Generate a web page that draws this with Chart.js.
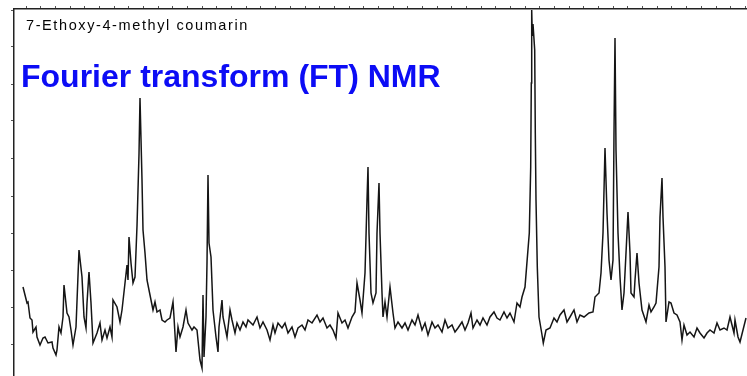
<!DOCTYPE html>
<html>
<head>
<meta charset="utf-8">
<title>7-Ethoxy-4-methyl coumarin</title>
<script src="https://cdn.jsdelivr.net/npm/chart.js@4.4.1/dist/chart.umd.min.js"></script>
<style>
  html, body { margin: 0; padding: 0; background: #fff; }
  #wrap { position: relative; width: 747px; height: 376px; }
</style>
</head>
<body>
<div id="wrap"><canvas id="nmrChart"></canvas></div>
<script>
const compoundName = '7-Ethoxy-4-methyl coumarin';
const headline = 'Fourier transform (FT) NMR';

// trace: position along the sweep, and signal height
const shift = [
    9, 13, 14, 16, 18, 19, 22, 23, 26, 29, 31, 34, 38, 39, 42, 43, 45, 47, 49, 50,
    53, 55, 57, 59, 62, 65, 68, 70, 72, 73, 75, 77, 79, 83, 86, 88, 91, 93, 96, 98,
    99, 103, 106, 108, 111, 113, 114, 115, 117, 119, 121, 123, 125, 126, 128, 129, 131, 133, 135, 137,
    139, 141, 143, 146, 148, 151, 153, 156, 159, 160, 162, 164, 166, 169, 172, 174, 178, 180, 183, 186,
    188, 189, 190, 192, 193, 194, 195, 197, 199, 202, 204, 205, 208, 209, 213, 216, 218, 221, 223, 226,
    229, 232, 234, 239, 243, 246, 249, 253, 256, 259, 261, 264, 268, 271, 274, 278, 281, 284, 288, 291,
    294, 298, 303, 306, 309, 313, 316, 319, 322, 324, 328, 331, 334, 338, 341, 343, 346, 348, 351, 353,
    354, 355, 357, 359, 362, 363, 365, 366, 368, 369, 371, 373, 376, 379, 381, 384, 388, 391, 394, 398,
    401, 404, 408, 411, 414, 418, 421, 424, 428, 431, 434, 438, 441, 444, 448, 451, 454, 457, 459, 463,
    466, 469, 473, 476, 480, 483, 486, 490, 493, 496, 500, 503, 506, 508, 511, 515.3, 516.7, 517.3, 517.7, 518.3,
    519, 520.7, 521.3, 522, 523.3, 525, 527.7, 529.3, 532, 536, 540, 543, 546, 550, 553, 556, 560, 563, 566, 570, 575, 579,
    581, 585, 587, 589, 591, 593, 595, 597, 599, 600, 601, 602, 604, 606, 608, 610, 612, 614, 616, 617,
    620, 621, 623, 625, 628, 632, 635, 637, 640, 642, 645, 646, 648, 649, 651, 652, 655, 657, 660, 663,
    666, 668, 670, 673, 676, 680, 683, 686, 690, 693, 696, 700, 703, 706, 710, 713, 716, 720, 721, 724,
    726, 729, 732
];
const signal = [
    89, 73, 74, 58, 56, 44, 49, 39, 31, 38, 39, 33, 34, 28, 21, 26, 49, 43, 59, 91,
    63, 59, 46, 31, 49, 126, 99, 59, 48, 73, 104, 73, 33, 43, 53, 36, 46, 38, 49, 39,
    76, 69, 54, 66, 93, 111, 96, 139, 113, 93, 99, 150, 222, 278, 196, 146, 123, 96, 86, 76,
    66, 74, 64, 66, 56, 54, 56, 58, 74, 59, 24, 49, 39, 49, 66, 53, 46, 49, 46, 16,
    8, 81, 19, 59, 113, 201, 133, 119, 66, 39, 24, 49, 76, 59, 39, 66, 56, 43, 53, 46,
    54, 49, 56, 51, 59, 48, 54, 46, 36, 51, 43, 53, 48, 53, 43, 49, 39, 48, 51, 46,
    56, 53, 61, 54, 58, 48, 51, 46, 38, 63, 53, 56, 48, 59, 64, 93, 76, 63, 103, 176,
    209, 143, 83, 73, 83, 143, 193, 143, 83, 59, 74, 59, 89, 63, 48, 54, 48, 53, 46, 56,
    51, 61, 46, 53, 41, 54, 48, 51, 44, 56, 48, 51, 44, 48, 54, 46, 53, 63, 48, 56,
    51, 58, 51, 59, 64, 58, 56, 64, 58, 63, 54, 73, 69, 79, 89, 143, 209, 293, 366, 340,
    352, 326, 243, 176, 109, 59, 43, 33, 46, 48, 58, 54, 61, 66, 54, 59, 66, 54, 61, 59, 63, 64,
    79, 83, 103, 143, 228, 163, 116, 96, 116, 243, 338, 226, 143, 99, 66, 83, 123, 164, 123, 83,
    79, 96, 123, 93, 66, 54, 71, 64, 69, 73, 109, 159, 198, 159, 109, 54, 74, 73, 63, 61,
    54, 36, 51, 41, 44, 39, 48, 43, 38, 43, 46, 43, 53, 46, 48, 46, 59, 43, 56, 39,
    34, 46, 58
];

// frame division marks (no labels on the scan)
const yTicks = [32, 69, 106, 143, 180, 218, 255, 292, 329, 366];
const xTickStart = -2.6;
const xTickStep = 14.68;

const labelPlugin = {
    id: 'scanLabels',
    afterDraw(chart) {
        const ctx = chart.ctx;
        const area = chart.chartArea;
        ctx.save();
        ctx.textBaseline = 'alphabetic';
        ctx.fillStyle = '#050505';
        ctx.font = '14.5px "Liberation Sans"';
        ctx.letterSpacing = '1.6px';
        ctx.fillText(compoundName, area.left + 12, area.top + 21);
        ctx.letterSpacing = '0px';
        ctx.fillStyle = '#0c0cf5';
        ctx.font = 'bold 32px "Liberation Sans"';
        ctx.fillText(headline, area.left + 7, area.top + 78);
        ctx.restore();
    }
};

const ctx = document.getElementById('nmrChart').getContext('2d');
new Chart(ctx, {
    type: 'line',
    data: {
        datasets: [{
            data: shift.map((x, i) => ({ x: x, y: signal[i] })),
            borderColor: '#151515',
            borderWidth: 1.5,
            pointRadius: 0,
            tension: 0,
            fill: false
        }]
    },
    options: {
        responsive: true,
        maintainAspectRatio: false,
        animation: false,
        layout: { padding: { left: 11, top: 6, right: 0, bottom: 0 } },
        plugins: {
            legend: { display: false },
            tooltip: { enabled: false }
        },
        scales: {
            x: {
                type: 'linear',
                position: 'top',
                min: 0,
                max: 733,
                afterBuildTicks: function (axis) {
                    const ticks = [];
                    for (let v = xTickStart + xTickStep; v < 733; v += xTickStep) {
                        ticks.push({ value: v });
                    }
                    axis.ticks = ticks;
                },
                ticks: { display: false },
                grid: { display: true, drawOnChartArea: false, drawTicks: true, tickLength: 3, color: '#555' },
                border: { display: true, color: '#222', width: 1.5 }
            },
            y: {
                type: 'linear',
                position: 'left',
                min: 0,
                max: 367,
                afterBuildTicks: function (axis) {
                    axis.ticks = yTicks.map(v => ({ value: v }));
                },
                ticks: { display: false },
                grid: { display: true, drawOnChartArea: false, drawTicks: true, tickLength: 3, color: '#555' },
                border: { display: true, color: '#222', width: 1.5 }
            }
        }
    },
    plugins: [labelPlugin]
});
</script>
</body>
</html>
